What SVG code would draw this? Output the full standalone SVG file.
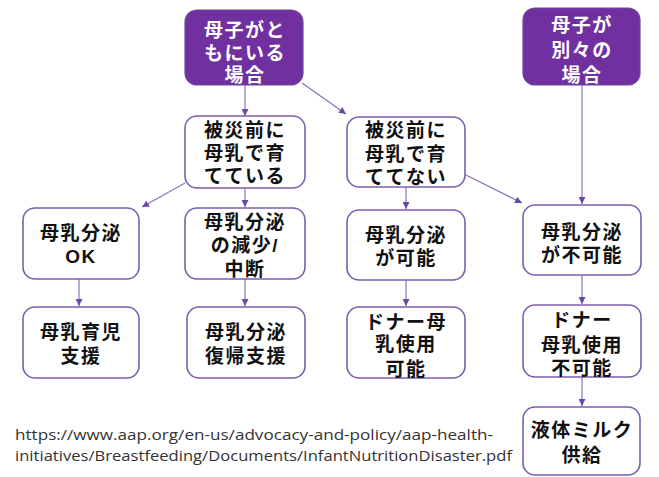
<svg xmlns="http://www.w3.org/2000/svg" width="659" height="477" viewBox="0 0 659 477">
<defs>
<style>
.pb{fill:#7030a0;stroke:#6a4a9c;stroke-width:1.2}
.wb{fill:#fff;stroke:#7b5fae;stroke-width:1.6}
.wt{font-family:"Liberation Sans","Noto Sans CJK JP",sans-serif;font-weight:bold;font-size:19px;fill:#fff;text-anchor:middle;letter-spacing:1.5px}
.bt{font-family:"Liberation Sans","Noto Sans CJK JP",sans-serif;font-weight:bold;font-size:19px;fill:#111;text-anchor:middle;letter-spacing:1.5px}
.ln{stroke:#8a72b8;stroke-width:1.2;fill:none;marker-end:url(#ah)}
.url{font-family:"Open Sans","Liberation Sans",sans-serif;font-size:15px;fill:#333}
</style>
<marker id="ah" viewBox="0 0 10 10" refX="10" refY="5" markerWidth="7" markerHeight="7" markerUnits="userSpaceOnUse" orient="auto">
<path d="M0,0 L10,5 L0,10 z" fill="#6a4aa8"/>
</marker>
</defs>
<rect width="659" height="477" fill="#fff"/>
<g id="connectors">
<line class="ln" x1="245" y1="85" x2="245" y2="116"/>
<line class="ln" x1="302" y1="83" x2="346" y2="114"/>
<line class="ln" x1="582" y1="85" x2="582" y2="204"/>
<line class="ln" x1="185" y1="183" x2="142" y2="207"/>
<line class="ln" x1="245" y1="188" x2="245" y2="207"/>
<line class="ln" x1="406" y1="187" x2="406" y2="209"/>
<line class="ln" x1="466" y1="175" x2="522" y2="203"/>
<line class="ln" x1="79" y1="279" x2="79" y2="306"/>
<line class="ln" x1="245" y1="279" x2="245" y2="306"/>
<line class="ln" x1="406" y1="280" x2="406" y2="306"/>
<line class="ln" x1="582" y1="275" x2="582" y2="304"/>
<line class="ln" x1="582" y1="377" x2="582" y2="406"/>
</g>
<g id="n1">
<rect class="pb" x="185" y="10" width="118" height="75" rx="12"/>
<text class="wt"><tspan x="245" y="37">母子がと</tspan><tspan x="245" y="60">もにいる</tspan><tspan x="245" y="82">場合</tspan></text>
</g>
<g id="n2">
<rect class="pb" x="523" y="8" width="117" height="77" rx="12"/>
<text class="wt"><tspan x="582" y="32">母子が</tspan><tspan x="582" y="57">別々の</tspan><tspan x="582" y="82">場合</tspan></text>
</g>
<g id="n3">
<rect class="wb" x="185" y="116" width="120" height="72" rx="12"/>
<text class="bt"><tspan x="245" y="137">被災前に</tspan><tspan x="245" y="160">母乳で育</tspan><tspan x="245" y="183">てている</tspan></text>
</g>
<g id="n4">
<rect class="wb" x="347" y="117" width="118" height="70" rx="12"/>
<text class="bt"><tspan x="406" y="137">被災前に</tspan><tspan x="406" y="161">母乳で育</tspan><tspan x="406" y="184">ててない</tspan></text>
</g>
<g id="n5">
<rect class="wb" x="23" y="208" width="116" height="71" rx="12"/>
<text class="bt"><tspan x="81" y="240">母乳分泌</tspan><tspan x="81" y="263">OK</tspan></text>
</g>
<g id="n6">
<rect class="wb" x="185" y="208" width="120" height="71" rx="12"/>
<text class="bt"><tspan x="245" y="229">母乳分泌</tspan><tspan x="245" y="252">の減少/</tspan><tspan x="245" y="276">中断</tspan></text>
</g>
<g id="n7">
<rect class="wb" x="347" y="210" width="118" height="70" rx="12"/>
<text class="bt"><tspan x="406" y="242">母乳分泌</tspan><tspan x="406" y="265">が可能</tspan></text>
</g>
<g id="n8">
<rect class="wb" x="523" y="205" width="118" height="70" rx="12"/>
<text class="bt"><tspan x="582" y="239">母乳分泌</tspan><tspan x="582" y="262">が不可能</tspan></text>
</g>
<g id="n9">
<rect class="wb" x="23" y="307" width="116" height="71" rx="12"/>
<text class="bt"><tspan x="81" y="339">母乳育児</tspan><tspan x="81" y="363">支援</tspan></text>
</g>
<g id="n10">
<rect class="wb" x="187" y="307" width="118" height="71" rx="12"/>
<text class="bt"><tspan x="246" y="339">母乳分泌</tspan><tspan x="246" y="363">復帰支援</tspan></text>
</g>
<g id="n11">
<rect class="wb" x="347" y="307" width="118" height="71" rx="12"/>
<text class="bt"><tspan x="406" y="329">ドナー母</tspan><tspan x="406" y="351">乳使用</tspan><tspan x="406" y="376">可能</tspan></text>
</g>
<g id="n12">
<rect class="wb" x="523" y="305" width="118" height="72" rx="12"/>
<text class="bt"><tspan x="582" y="327">ドナー</tspan><tspan x="582" y="352">母乳使用</tspan><tspan x="582" y="375">不可能</tspan></text>
</g>
<g id="n13">
<rect class="wb" x="523" y="407" width="117" height="68" rx="12"/>
<text class="bt"><tspan x="582" y="437">液体ミルク</tspan><tspan x="582" y="462">供給</tspan></text>
</g>
<g id="source">
<text class="url"><tspan x="15" y="440" textLength="478" lengthAdjust="spacingAndGlyphs">https://www.aap.org/en-us/advocacy-and-policy/aap-health-</tspan><tspan x="15" y="461" textLength="497" lengthAdjust="spacingAndGlyphs">initiatives/Breastfeeding/Documents/InfantNutritionDisaster.pdf</tspan></text>
</g>
</svg>
